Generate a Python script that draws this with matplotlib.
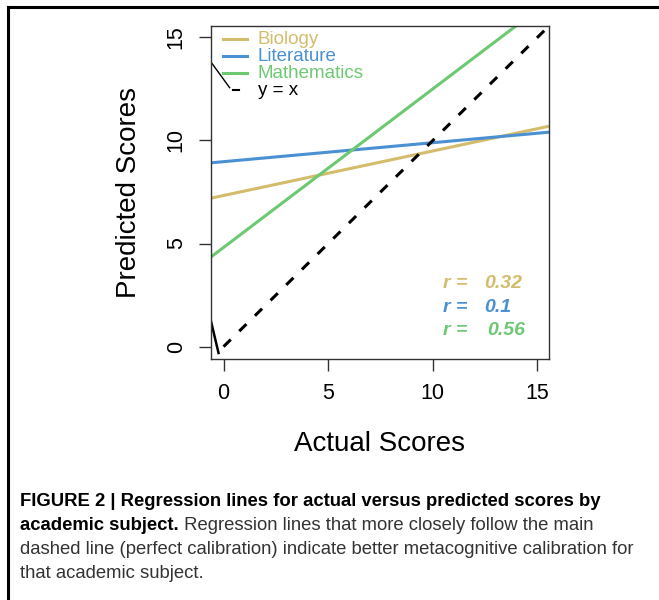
import matplotlib
matplotlib.use("Agg")
from matplotlib import pyplot as plt
from matplotlib.lines import Line2D

plt.rcParams['font.family'] = ['Liberation Sans', 'DejaVu Sans']

# regression lines
subjects = ["Biology", "Literature", "Mathematics"]
intercepts = [7.33, 8.97, 4.81]
slopes = [0.216, 0.092, 0.769]
r_values = ["0.32", "0.1", "0.56"]
colors = ["#D3BC6B", "#4A90D2", "#6CC972"]

identity_x = [0, 16]
# stray solid black strokes in the original plot
stray_a_x = [-0.6, -0.24]
stray_a_y = [1.23, -0.31]
stray_b_x = [-0.6, 0.29]
stray_b_y = [13.80, 12.56]

ticks = [0, 5, 10, 15]

fig = plt.figure(figsize=(6.59, 6.0), dpi=100)
ax = fig.add_axes([211 / 659, 1 - 359 / 600, 338 / 659, 333 / 600])

for name, b, m, c in zip(subjects, intercepts, slopes, colors):
    ax.axline((0, b), slope=m, color=c, lw=2.2, solid_capstyle='butt')

ax.plot(identity_x, identity_x, color='black', lw=2.2, linestyle=(0, (3.3, 3.9)))
ax.plot(stray_a_x, stray_a_y, color='black', lw=1.8)
ax.plot(stray_b_x, stray_b_y, color='black', lw=1.0)

ax.set_xlim(-0.6, 15.55)
ax.set_ylim(-0.6, 15.55)
ax.set_xticks(ticks)
ax.set_yticks(ticks)
ax.set_yticklabels([str(t) for t in ticks], rotation=90, va='center')
ax.tick_params(direction='out', length=8.5, width=1.0, labelsize=15.5, pad=9, color='#333333')
for s in ax.spines.values():
    s.set_color('#333333')
    s.set_linewidth(1.0)

ax.set_xlabel("Actual Scores", fontsize=20, labelpad=19)
ax.set_ylabel("Predicted Scores", fontsize=20, labelpad=17)

# legend drawn by hand (no box, tight rows)
rows = [0.958, 0.907, 0.856, 0.805]
for yy, name, c in zip(rows, subjects, colors):
    ax.plot([0.0355, 0.107], [yy + 0.003, yy + 0.003], color=c, lw=2.2, transform=ax.transAxes)
    ax.text(0.139, yy, name, color=c, fontsize=13.5, va='center', transform=ax.transAxes)
ax.plot([0.066, 0.084], [rows[3] + 0.003, rows[3] + 0.003], color='black', lw=1.5,
        transform=ax.transAxes)
ax.text(0.139, rows[3], "y = x", color='black', fontsize=13.5, va='center', transform=ax.transAxes)

# correlation annotations
r_rows = [3.06, 1.90, 0.78]
for yy, r, c in zip(r_rows, r_values, colors):
    ax.text(10.5, yy, "r =", color=c, fontsize=14, fontweight='bold', fontstyle='italic', va='center')
    xv = 12.6 if r == "0.56" else 12.43
    ax.text(xv, yy, r, color=c, fontsize=14, fontweight='bold', fontstyle='italic', va='center')

# frame around the figure
fig.add_artist(Line2D([7.5 / 659, 1], [1 - 6.5 / 600, 1 - 6.5 / 600], color='black', lw=2.2,
                      transform=fig.transFigure))
fig.add_artist(Line2D([7.5 / 659, 7.5 / 659], [0, 1 - 6.5 / 600], color='black', lw=2.2,
                      transform=fig.transFigure, solid_capstyle='projecting'))

# caption
cap_fs = 13.3
x0 = 20 / 659
fig.text(x0, 1 - 501 / 600, "FIGURE 2 | Regression lines for actual versus predicted scores by",
         fontsize=cap_fs, fontweight='bold', va='center', color='black')
t2 = fig.text(x0, 1 - 525 / 600, "academic subject.", fontsize=cap_fs, fontweight='bold',
              va='center', color='black')
ax.annotate(" Regression lines that more closely follow the main", xy=(1, 0), xycoords=t2,
            fontsize=cap_fs, color='#333333', va='bottom', ha='left', annotation_clip=False)
fig.text(x0, 1 - 549 / 600,
         "dashed line (perfect calibration) indicate better metacognitive calibration for",
         fontsize=cap_fs, va='center', color='#333333')
fig.text(x0, 1 - 573 / 600, "that academic subject.", fontsize=cap_fs, va='center', color='#333333')

fig.savefig("out.png", dpi=100)
